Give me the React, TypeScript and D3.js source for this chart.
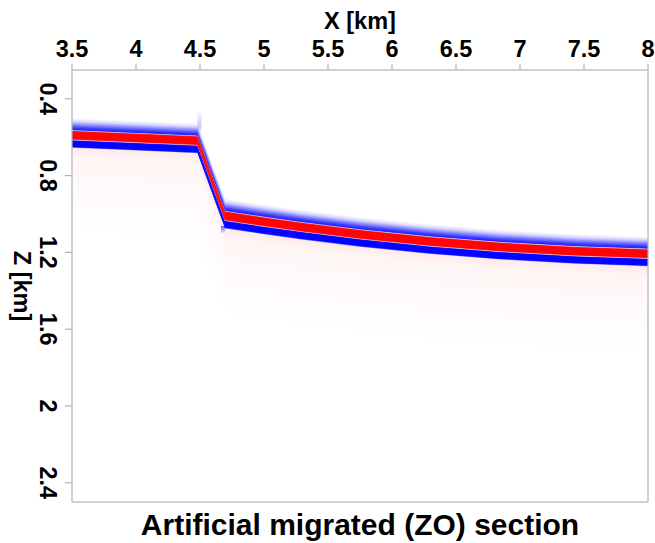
import { useRef, useEffect } from "react";
import * as d3 from "d3";

// reflector picked from the section (km)
const reflectorX = [3.5, 4.48, 4.695, 4.984, 5.281, 5.75, 6.297, 6.844, 7.43, 8.0];
const reflectorZ = [0.59, 0.618, 1.01, 1.039, 1.067, 1.106, 1.143, 1.172, 1.194, 1.207];

const xTicks = [3.5, 4, 4.5, 5, 5.5, 6, 6.5, 7, 7.5, 8];
const zTicks = [0.4, 0.8, 1.2, 1.6, 2, 2.4];

const xLabel = "X [km]";
const zLabel = "Z [km]";
const title = "Artificial migrated (ZO) section";

// wavelet look: vertical offset in px from reflector -> colour (already blended on white)
const waveletStops: [number, string][] = [
  [-17, "#ffffff"],
  [-13.5, "#d6d6ff"],
  [-10, "#8080ff"],
  [-7, "#3636ff"],
  [-5, "#1e1eff"],
  [-4.4, "#f2f2ff"],
  [-3.7, "#ff0000"],
  [3.7, "#ff0000"],
  [4.4, "#fff4f4"],
  [5.0, "#0000ff"],
  [11.4, "#0000ff"],
  [12.4, "#f4f4ff"],
  [13.6, "#ffeaea"],
  [22, "#fff5f5"],
  [55, "#fffafa"],
  [100, "#ffffff"],
];

export default function App() {
  const svgRef = useRef(null);
  const width = 655;
  const height = 543;
  const margin = { top: 70, right: 7, bottom: 41, left: 72 };

  useEffect(() => {
    const svg = d3.select(svgRef.current);
    svg.selectAll("*").remove();

    const x = d3.scaleLinear().domain([3.5, 8]).range([margin.left, width - margin.right]);
    const y = d3.scaleLinear().domain([0.25, 2.5]).range([margin.top, height - margin.bottom]);

    const pts = reflectorX.map((d, i) => [d, reflectorZ[i]]);

    const defs = svg.append("defs");
    defs.append("clipPath").attr("id", "plotclip")
      .append("rect")
      .attr("x", margin.left).attr("y", margin.top)
      .attr("width", width - margin.left - margin.right)
      .attr("height", height - margin.top - margin.bottom);

    const gUp = defs.append("linearGradient").attr("id", "smearUp")
      .attr("x1", 0).attr("x2", 0).attr("y1", 0).attr("y2", 1);
    gUp.append("stop").attr("offset", "0%").attr("stop-color", "#0000ff").attr("stop-opacity", 0);
    gUp.append("stop").attr("offset", "70%").attr("stop-color", "#0000ff").attr("stop-opacity", 0.22);
    gUp.append("stop").attr("offset", "100%").attr("stop-color", "#0000ff").attr("stop-opacity", 0.05);
    const gDn = defs.append("linearGradient").attr("id", "smearDn")
      .attr("x1", 0).attr("x2", 0).attr("y1", 0).attr("y2", 1);
    gDn.append("stop").attr("offset", "0%").attr("stop-color", "#0000ff").attr("stop-opacity", 0.6);
    gDn.append("stop").attr("offset", "100%").attr("stop-color", "#0000ff").attr("stop-opacity", 0);

    // build slices between stops
    const slices: { o0: number; o1: number; c: string }[] = [];
    for (let i = 0; i < waveletStops.length - 1; i++) {
      const [a, ca] = waveletStops[i];
      const [b, cb] = waveletStops[i + 1];
      const step = b - a > 10 ? 2 : 0.4;
      const n = Math.max(1, Math.ceil((b - a) / step));
      const interp = d3.interpolateRgb(ca, cb);
      for (let k = 0; k < n; k++) {
        const o0 = a + ((b - a) * k) / n;
        const o1 = a + ((b - a) * (k + 1)) / n;
        slices.push({ o0, o1, c: interp((k + 0.5) / n) });
      }
    }

    const g = svg.append("g").attr("clip-path", "url(#plotclip)");
    // tail first, core last
    const order = slices.slice().sort((p, q) => Math.abs(q.o0) - Math.abs(p.o0));
    order.forEach((s) => {
      const area = d3.area<number[]>()
        .x((d) => x(d[0]))
        .y0((d) => y(d[1]) + s.o0 - 0.25)
        .y1((d) => y(d[1]) + s.o1 + 0.25);
      g.append("path").attr("d", area(pts)).attr("fill", s.c);
    });

    // diffraction smears at the fault edges
    const top = pts[1];
    const bot = pts[2];
    g.append("rect")
      .attr("x", x(top[0])).attr("y", y(top[1]) - 30)
      .attr("width", 4).attr("height", 22)
      .attr("fill", "url(#smearUp)");
    g.append("rect")
      .attr("x", x(bot[0]) - 4).attr("y", y(bot[1]) + 10)
      .attr("width", 4).attr("height", 8)
      .attr("fill", "url(#smearDn)");

    // frame
    const frame = svg.append("g").attr("stroke", "#b4b4b4").attr("stroke-width", 1.2).attr("fill", "none");
    frame.append("rect")
      .attr("x", margin.left).attr("y", margin.top)
      .attr("width", width - margin.left - margin.right)
      .attr("height", height - margin.top - margin.bottom);

    xTicks.forEach((t) => {
      frame.append("line").attr("x1", x(t)).attr("x2", x(t))
        .attr("y1", margin.top).attr("y2", margin.top - 6);
    });
    zTicks.forEach((t) => {
      frame.append("line").attr("y1", y(t)).attr("y2", y(t))
        .attr("x1", margin.left).attr("x2", margin.left - 7);
    });

    const font = "'Liberation Sans', Arial, sans-serif";
    const txt = svg.append("g").attr("font-family", font).attr("font-weight", "bold").attr("fill", "#000");

    xTicks.forEach((t) => {
      txt.append("text").attr("x", x(t)).attr("y", 57)
        .attr("text-anchor", "middle").attr("font-size", 23.5).text(d3.format("")(t));
    });
    txt.append("text").attr("x", (margin.left + width - margin.right) / 2).attr("y", 29)
      .attr("text-anchor", "middle").attr("font-size", 23.5).text(xLabel);

    zTicks.forEach((t) => {
      txt.append("text").attr("transform", `translate(40,${y(t)}) rotate(90)`)
        .attr("text-anchor", "middle").attr("font-size", 23.5).text(d3.format("")(t));
    });
    txt.append("text")
      .attr("transform", `translate(14,${(margin.top + height - margin.bottom) / 2}) rotate(90)`)
      .attr("text-anchor", "middle").attr("font-size", 23.5).text(zLabel);

    txt.append("text").attr("x", (margin.left + width - margin.right) / 2).attr("y", 535)
      .attr("text-anchor", "middle").attr("font-size", 30).text(title);
  }, []);

  return (
    <svg ref={svgRef} width={width} height={height}
      style={{ position: "absolute", left: 0, top: 0, background: "#fff" }} />
  );
}
